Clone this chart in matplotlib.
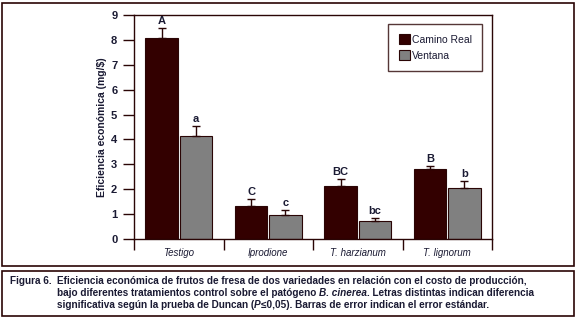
import matplotlib
matplotlib.use("Agg")
import matplotlib.pyplot as plt
import numpy as np
from matplotlib.patches import Rectangle

categories = ["Testigo", "Iprodione", "T. harzianum", "T. lignorum"]
camino_real = [8.08, 1.31, 2.13, 2.80]
camino_real_err = [0.40, 0.30, 0.28, 0.12]
ventana = [4.13, 0.95, 0.72, 2.05]
ventana_err = [0.40, 0.21, 0.11, 0.27]
letters_cr = ["A", "C", "BC", "B"]
letters_v = ["a", "c", "bc", "b"]
yticks = list(range(0, 10))

FONT = ["Liberation Sans Narrow", "Liberation Sans", "DejaVu Sans"]
plt.rcParams["font.family"] = FONT

CR_COLOR = "#330000"
V_COLOR = "#808080"
EDGE = "#2a0505"
TXT = "#1a1a33"

fig = plt.figure(figsize=(5.77, 3.19), dpi=100)
fig.patch.set_facecolor("white")

W, H = 577, 319


def fx(px):
    return px / W


def fy(py):
    return 1 - py / H


# marcos exteriores
fig.patches.append(Rectangle((fx(1.5), fy(266)), fx(572.5), (265 - 1.5) / H,
                             transform=fig.transFigure, fill=False,
                             edgecolor=EDGE, lw=1.2))
fig.patches.append(Rectangle((fx(2), fy(316)), fx(572), (316 - 271) / H,
                             transform=fig.transFigure, fill=False,
                             edgecolor=EDGE, lw=1.2))

ax = fig.add_axes([fx(134), fy(239), fx(492 - 134), (239 - 15) / H])
x = np.arange(len(categories))
w = 0.365
off = w / 2 + 0.01
ax.bar(x - off, camino_real, w, color=CR_COLOR, edgecolor=EDGE,
       lw=0.8, label="Camino Real", zorder=2)
ax.bar(x + off, ventana, w, color=V_COLOR, edgecolor=EDGE,
       lw=0.8, label="Ventana", zorder=2)
ax.errorbar(x - off, camino_real, yerr=[np.zeros(4), camino_real_err],
            fmt="none", ecolor=EDGE, elinewidth=1, capsize=3, capthick=1, zorder=3)
ax.errorbar(x + off, ventana, yerr=[np.zeros(4), ventana_err],
            fmt="none", ecolor=EDGE, elinewidth=1, capsize=3, capthick=1, zorder=3)

for i in range(len(categories)):
    ax.text(x[i] - off, camino_real[i] + camino_real_err[i] + 0.08,
            letters_cr[i], ha="center", va="bottom", fontsize=8,
            fontweight="bold", color=TXT)
    ax.text(x[i] + off, ventana[i] + ventana_err[i] + 0.08,
            letters_v[i], ha="center", va="bottom", fontsize=8,
            fontweight="bold", color=TXT)

ax.set_xlim(-0.5, 3.5)
ax.set_ylim(0, 9)
ax.set_yticks(yticks)
ax.tick_params(axis="y", direction="out", length=8, width=1, color=EDGE,
               labelsize=8, labelcolor=TXT, pad=4)
ax.set_xticks(np.arange(-0.5, 4.0, 1.0))
ax.set_xticklabels([])
ax.tick_params(axis="x", direction="out", length=8, width=1, color=EDGE)
for lab in ax.get_yticklabels():
    lab.set_fontweight("bold")
for i, c in enumerate(categories):
    ax.text(x[i], -0.57, c, ha="center", va="center", fontsize=7,
            style="italic", color=TXT)
for s in ax.spines.values():
    s.set_edgecolor(EDGE)
    s.set_linewidth(1)

ax.set_ylabel("Eficiencia económica (mg/$)", fontsize=7.5, fontweight="bold",
              color=TXT, labelpad=3)

leg = ax.legend(loc="upper right", bbox_to_anchor=(0.972, 0.96), fontsize=7.5,
                frameon=True, fancybox=False, handlelength=1.1,
                handleheight=1.1, handletextpad=0.15, borderpad=1.0,
                labelspacing=0.5, borderaxespad=0)
leg.get_frame().set_edgecolor(EDGE)
leg.get_frame().set_linewidth(1)
for t in leg.get_texts():
    t.set_color(TXT)

# pie de figura, escrito por tramos para las cursivas
renderer = fig.canvas.get_renderer()
cap_kw = dict(fontsize=7.2, fontweight="bold", color=TXT, va="center",
              transform=fig.transFigure)


def runs(x0, y0, parts):
    xpos = x0
    for txt, italic in parts:
        t = fig.text(xpos, y0, txt, style="italic" if italic else "normal", **cap_kw)
        bb = t.get_window_extent(renderer=renderer)
        xpos += bb.width / fig.bbox.width


fig.text(fx(10), fy(281), "Figura 6.", **cap_kw)
runs(fx(57), fy(281), [("Eficiencia económica de frutos de fresa de dos variedades "
                        "en relación con el costo de producción,", False)])
runs(fx(57), fy(293), [("bajo diferentes tratamientos control sobre el patógeno ", False),
                       ("B. cinerea", True),
                       (". Letras distintas indican diferencia", False)])
runs(fx(57), fy(305), [("significativa según la prueba de Duncan (", False),
                       ("P", True),
                       ("≤0,05). Barras de error indican el error estándar.", False)])

fig.savefig("out.png", dpi=100, facecolor="white")
